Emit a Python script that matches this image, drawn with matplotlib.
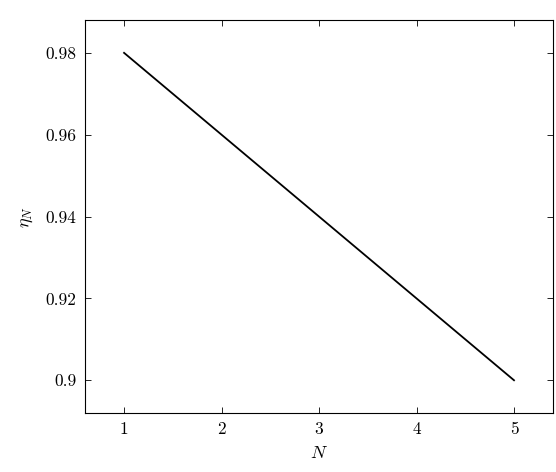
import matplotlib
matplotlib.use("Agg")
import matplotlib.pyplot as plt

# data
N = [1, 2, 3, 4, 5]
eta = [0.98, 0.96, 0.94, 0.92, 0.90]
xticks = [1, 2, 3, 4, 5]
yticks = [0.90, 0.92, 0.94, 0.96, 0.98]
ytick_labels = ["0.9", "0.92", "0.94", "0.96", "0.98"]

plt.rcParams['font.family'] = 'serif'
plt.rcParams['font.serif'] = ['cmr10']
plt.rcParams['mathtext.fontset'] = 'cm'
plt.rcParams['axes.unicode_minus'] = False

fig = plt.figure(figsize=(5.56, 4.72), dpi=100)
ax = fig.add_axes([0.153, 0.125, 0.8416, 0.8324])

ax.plot(N, eta, color='black', linewidth=1.3)

ax.set_xlim(0.6, 5.4)
ax.set_ylim(0.892, 0.988)
ax.set_xticks(xticks)
ax.set_xticklabels([str(t) for t in xticks])
ax.set_yticks(yticks)
ax.set_yticklabels(ytick_labels)
ax.tick_params(direction='in', top=True, right=True, length=4, width=0.6,
               labelsize=12.5, pad=6)
for s in ax.spines.values():
    s.set_linewidth(0.8)

ax.set_xlabel(r'$N$', fontsize=13, labelpad=6)
ax.set_ylabel(r'$\eta_N$', fontsize=13, labelpad=8)

fig.savefig("out.png", dpi=100)
